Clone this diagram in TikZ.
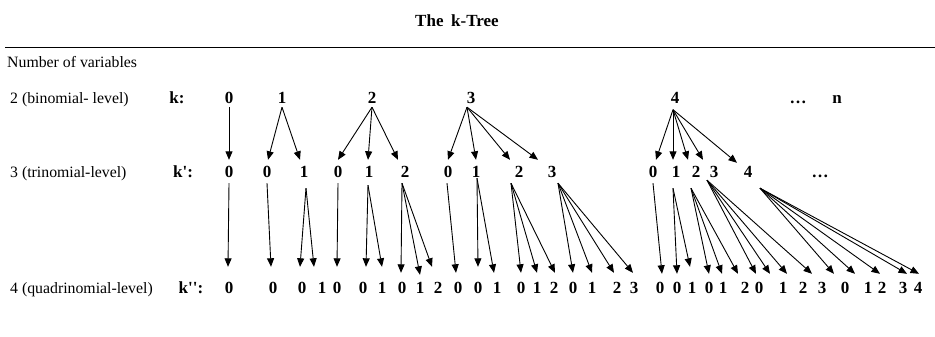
\documentclass[tikz,border=0pt]{standalone}
\usepackage{fontspec}
\setmainfont{Liberation Serif}
\usetikzlibrary{arrows.meta}
\newcommand{\sq}{\textquotesingle}
\begin{document}
\begin{tikzpicture}[x=1pt,y=-1pt,
  lab/.style={anchor=base west,inner sep=0pt,font=\fontsize{15.8}{18}\selectfont},
  dig/.style={anchor=base,inner sep=0pt,text height=11pt,text depth=0pt,font=\fontsize{17}{19}\selectfont\bfseries},
  klab/.style={anchor=base,inner sep=0pt,font=\fontsize{17}{19}\selectfont\bfseries},
  arr/.style={line width=0.9pt,-{Triangle[length=8.5pt,width=7pt]}}]
\useasboundingbox (0,0) rectangle (935,337);
% title and header
\node[klab] (title) at (457,27) {The\hspace{0.45em}k-Tree};
\coordinate (hl) at (5,48);
\coordinate (hr) at (935,48);
\draw[line width=1pt] (hl) -- (hr);
\node[lab] (nov) at (7,67) {Number of variables};
% row labels
\node[lab] (l2) at (10,103.5) {2 (binomial- level)};
\node[lab] (l3) at (10,177.5) {3 (trinomial-level)};
\node[lab] (l4) at (10,293.5) {4 (quadrinomial-level)};
\node[klab] (k1) at (177,103.5) {k:};
\node[klab] (k2) at (183,177.5) {k\sq:};
\node[klab] (k3) at (191,293.5) {k\sq\sq:};
% top row
\foreach \n/\x/\t in {0/229/0,1/282/1,2/372/2,3/471/3,4/675/4}
  \node[dig] (t\n) at (\x,103.5) {\t};
\node[klab] (tdots) at (798,103.5) {\dots};
\node[klab] (tn) at (837,103.5) {n};
% middle row
\foreach \n/\x/\t in {1/229/0,2/267/0,3/304/1,4/338/0,5/369/1,6/405/2,7/448/0,8/476/1,9/519/2,10/552/3,11/653/0,12/676/1,13/696/2,14/714/3,15/748/4}
  \node[dig] (m\n) at (\x,177.5) {\t};
\node[klab] (mdots) at (820,177.5) {\dots};
% bottom row
\foreach \n/\x/\t in {1/229/0,2/273/0,3/302/0,4/322/1,5/337/0,6/363/0,7/382/1,8/402/0,9/420/1,10/438/2,
  11/458/0,12/478/0,13/497/1,14/521/0,15/537/1,16/554/2,17/573/0,18/592/1,19/617/2,20/634/3,
  21/660/0,22/677/0,23/692/1,24/709/0,25/723/1,26/745/2,27/759/0,28/783/1,29/803/2,30/822/3,
  31/845/0,32/868/1,33/882/2,34/903/3,35/918/4}
  \node[dig] (b\n) at (\x,293.5) {\t};
% apex points (top row)
\coordinate (A0) at ([shift={(0,3.5)}]t0.south);
\coordinate (A1) at ([shift={(0,3.5)}]t1.south);
\coordinate (A2) at ([shift={(0,3.5)}]t2.south);
\coordinate (A3) at ([shift={(-4,3.5)}]t3.south);
\coordinate (A4) at ([shift={(-2,6)}]t4.south);
% apex points (middle row)
\foreach \n/\dx/\dy in {1/0/5.5,2/0/5.5,3/2/10.5,4/0/5.5,5/-1/7.5,6/-3/5.5,7/-1/5.5,8/1/0.5,
  9/-8/5.5,10/6/5.5,11/0/5.5,12/-3/10.5,13/-5/10.5,14/-7/2.5,15/12/10.5}
  \coordinate (M\n) at ([shift={(\dx,\dy)}]m\n.south);
% arrows top -> middle
\foreach \a/\c/\dx/\dy in {A0/m1/0/-6.5,A1/m2/1/-6.5,A1/m3/-4/-6.5,
  A2/m4/0/-6.5,A2/m5/-1/-6.5,A2/m6/-7/-6.5,
  A3/m7/0/-6.5,A3/m8/0/-6.5,A3/m9/-9/-6.5,A3/m10/-14/-6.5,
  A4/m11/3/-6.5,A4/m12/-3/-6.5,A4/m13/-8/-6.5,A4/m14/-11/-6.5,A4/m15/-11/-3.5}
  \draw[arr] (\a) -- ([shift={(\dx,\dy)}]\c.north);
% arrows middle -> bottom
\foreach \a/\c/\dx/\dy in {M1/b1/-1/-15.5,M2/b2/-2/-15.5,M3/b3/-2/-15.5,M3/b4/-8/-15.5,
  M4/b5/0/-15.5,M5/b6/3/-15.5,M5/b7/0/-15.5,M6/b8/-1/-9.5,M6/b9/0/-7.5,M6/b10/-6/-15.5,
  M7/b11/-2/-9.5,M8/b12/0/-15.5,M8/b13/-3/-9.5,
  M9/b14/0/-9.5,M9/b15/0/-9.5,M9/b16/1/-9.5,
  M10/b17/0/-9.5,M10/b18/0/-9.5,M10/b19/-3/-9.5,M10/b20/-1/-9.5,
  M11/b21/2/-8.5,M12/b22/0/-8.5,M12/b23/-2/-15.5,
  M13/b24/0/-8.5,M13/b25/-1/-8.5,M13/b26/-7/-8.5,
  M14/b27/-3/-8.5,M14/b28/-13/-8.5,M14/b29/-16/-8.5,M14/b30/-10/-8.5,
  M15/b31/-11/-8.5,M15/b32/-13/-8.5,M15/b33/-2/-8.5,M15/b34/4/-8.5,M15/b35/1/-8.5}
  \draw[arr] (\a) -- ([shift={(\dx,\dy)}]\c.north);
\end{tikzpicture}
\end{document}
